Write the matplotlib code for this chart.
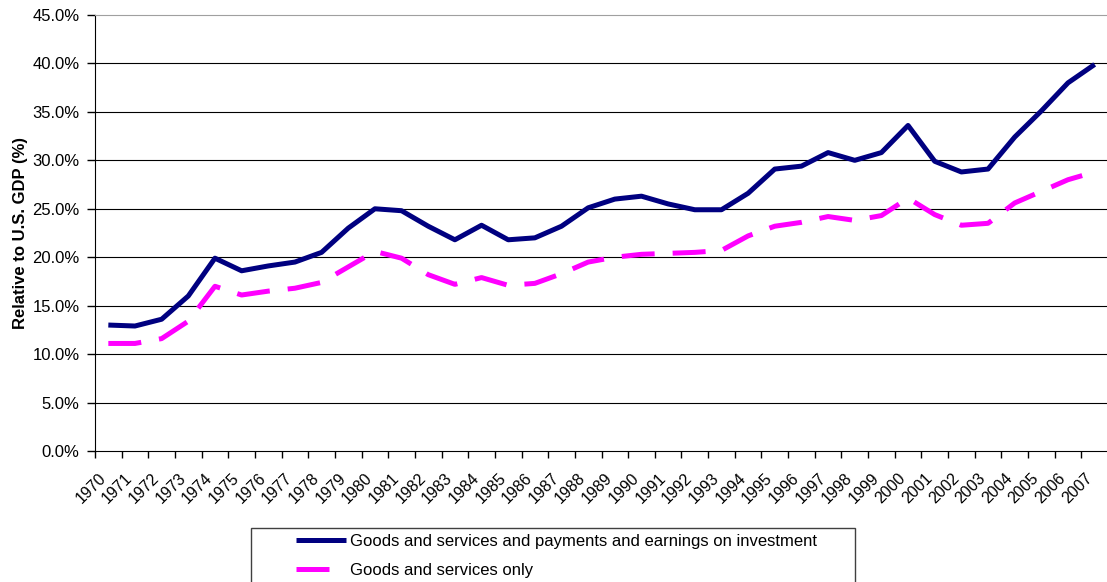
# current account flows relative to U.S. GDP, 1970-2007
import matplotlib
matplotlib.use("Agg")
import matplotlib.pyplot as plt
import numpy
from matplotlib.patches import Rectangle
from matplotlib.ticker import PercentFormatter, FixedLocator, NullFormatter

plt.rcParams.update({"font.family": ["Liberation Sans", "DejaVu Sans"], "font.size": 12})

years = list(range(1970, 2008))
with_income = [13.0, 12.9, 13.6, 16.0, 19.9, 18.6, 19.1, 19.5, 20.5, 23.0,
               25.0, 24.8, 23.2, 21.8, 23.3, 21.8, 22.0, 23.2, 25.1, 26.0,
               26.3, 25.5, 24.9, 24.9, 26.6, 29.1, 29.4, 30.8, 30.0, 30.8,
               33.6, 29.9, 28.8, 29.1, 32.4, 35.1, 38.0, 39.9]
goods_only = [11.1, 11.1, 11.6, 13.4, 17.0, 16.1, 16.5, 16.8, 17.4, 19.0,
              20.6, 19.9, 18.2, 17.2, 17.9, 17.1, 17.3, 18.3, 19.5, 20.0,
              20.3, 20.4, 20.5, 20.7, 22.2, 23.2, 23.6, 24.2, 23.8, 24.3,
              26.1, 24.4, 23.3, 23.5, 25.6, 26.8, 28.0, 28.8]
labels = ["Goods and services and payments and earnings on investment",
          "Goods and services only"]

W, H = 1107, 582
fig = plt.figure(figsize=(W / 100, H / 100), dpi=100)
ax = fig.add_axes([95 / W, 1 - 451 / H, 1013 / W, 436 / H])

x = numpy.arange(len(years))
h1, = ax.plot(x, with_income, color="#000080", lw=3.6, solid_capstyle="butt",
              label=labels[0], zorder=3)
h2, = ax.plot(x, goods_only, color="#FF00FF", lw=3.6, dashes=(6.6, 3.6),
              dash_capstyle="butt", label=labels[1], zorder=3)

ax.set_xlim(-0.5, len(years) - 0.5)
ax.set_ylim(0, 45)
ax.set_yticks(numpy.arange(0, 46, 5))
ax.yaxis.set_major_formatter(PercentFormatter(decimals=1))
for v in range(5, 45, 5):
    ax.axhline(v, color="black", lw=0.8, zorder=1)

# ticks between categories, labels at category centres
ax.xaxis.set_major_locator(FixedLocator(x - 0.5))
ax.xaxis.set_major_formatter(NullFormatter())
ax.tick_params(axis="x", length=5, width=1)
ax.tick_params(axis="y", length=6, width=1, pad=5, labelsize=12)
for i, yr in enumerate(years):
    ax.text(i - 0.38, -2.0, str(yr), rotation=45, ha="right", va="top",
            rotation_mode="anchor", fontsize=11.5)

ax.spines["right"].set_visible(False)
ax.spines["top"].set_color("#a0a0a0")
ax.set_ylabel("Relative to U.S. GDP (%)", fontweight="bold", fontsize=12)
ax.yaxis.set_label_coords(-67 / 1013, 0.5)

# legend box runs off the bottom of the figure
fig.patches.append(Rectangle((251 / W, -0.1), 604 / W, 0.1 + 1 - 528 / H,
                             transform=fig.transFigure, fill=False,
                             edgecolor="#404040", lw=1))
fig.legend(handles=[h1, h2], loc="upper left",
           bbox_to_anchor=(284 / W, 1 - 522 / H), frameon=False,
           handlelength=3.0, handletextpad=0.25, labelspacing=0.85,
           borderpad=0.2, fontsize=12)

fig.savefig("out.png", dpi=100)
